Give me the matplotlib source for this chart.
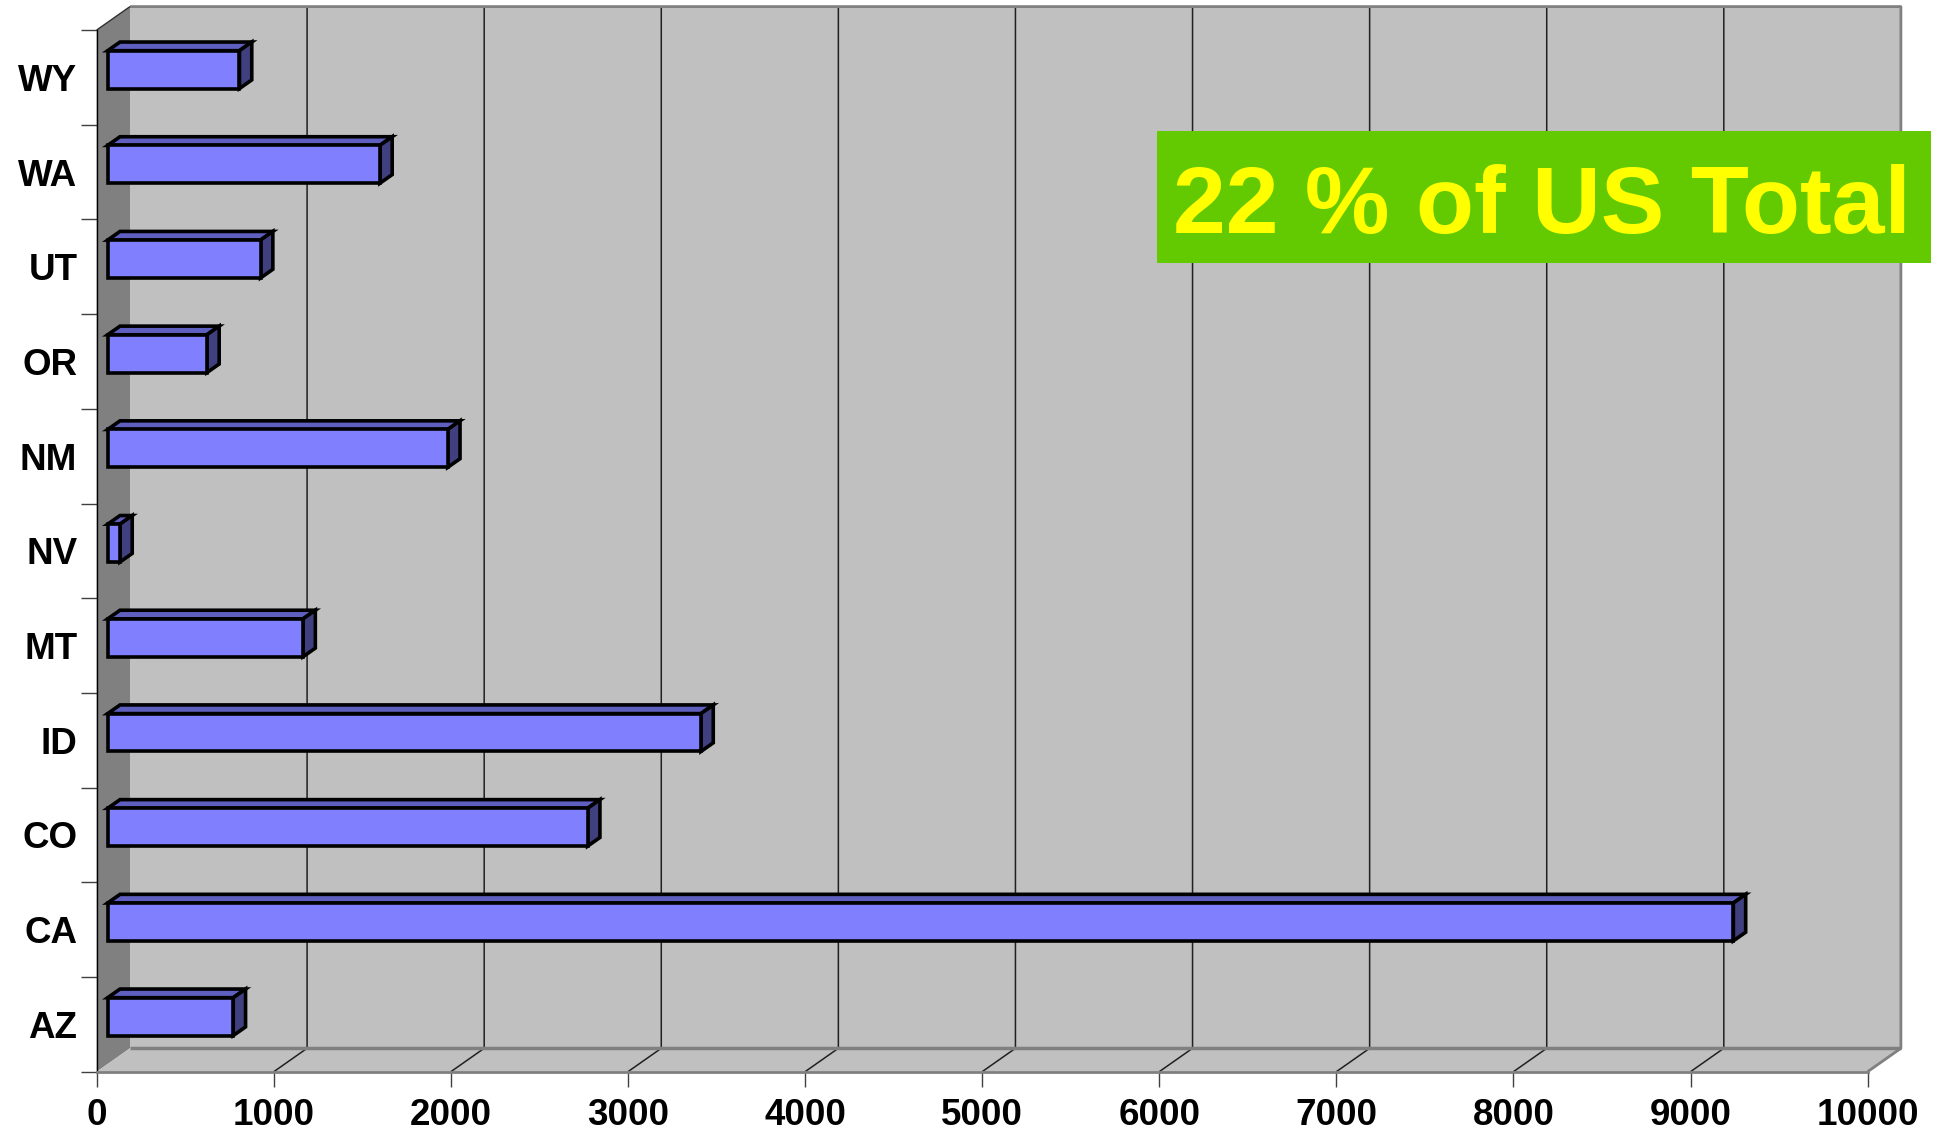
import matplotlib
matplotlib.use('Agg')
import matplotlib.pyplot as plt
from matplotlib.patches import Polygon, Rectangle

# data (bottom to top, as in the chart)
states = ['AZ', 'CA', 'CO', 'ID', 'MT', 'NV', 'NM', 'OR', 'UT', 'WA', 'WY']
values = [709, 9180, 2710, 3350, 1103, 69, 1920, 560, 863, 1537, 744]
x_ticks = list(range(0, 10001, 1000))
note = '22 % of US Total'

plt.rcParams['font.family'] = ['Liberation Sans', 'DejaVu Sans']
plt.rcParams['font.weight'] = 'bold'

W, H = 1946, 1137
fig = plt.figure(figsize=(W / 100, H / 100), dpi=100)

# front plane of the fake 3-D box, in pixels
x0, x1, ytop, ybot = 96.7, 1867.6, 30.0, 1071.7
ax = fig.add_axes([x0 / W, (H - ybot) / H, (x1 - x0) / W, (ybot - ytop) / H])
n = len(states)
xmax = x_ticks[-1]
ax.set_xlim(0, xmax)
ax.set_ylim(0, n)
ax.patch.set_visible(False)

# depth offset of the back wall, converted to data units
DX = 33.3 / ((x1 - x0) / xmax)
DY = 23.4 / ((ybot - ytop) / n)


def proj(v, c, f):
    return (v + f * DX, c + f * DY)


def poly(pts, **kw):
    p = Polygon(pts, closed=True, clip_on=False, **kw)
    ax.add_patch(p)
    return p


def line(pts, **kw):
    xs, ys = zip(*pts)
    ax.plot(xs, ys, clip_on=False, solid_capstyle='butt', **kw)


# walls and floor
poly([proj(0, 0, 1), proj(xmax, 0, 1), proj(xmax, n, 1), proj(0, n, 1)],
     fc='#C0C0C0', ec='none', zorder=0.1)
poly([proj(0, 0, 0), proj(0, 0, 1), proj(0, n, 1), proj(0, n, 0)],
     fc='#808080', ec='none', zorder=0.2)
poly([proj(0, 0, 0), proj(xmax, 0, 0), proj(xmax, 0, 1), proj(0, 0, 1)],
     fc='#C0C0C0', ec='none', zorder=0.2)

# gridlines on floor and back wall
for v in x_ticks[1:-1]:
    line([proj(v, 0, 0), proj(v, 0, 1), proj(v, n, 1)], color='#202020', lw=1.1, zorder=0.5)

# box edges
line([proj(0, 0, 1), proj(xmax, 0, 1)], color='#808080', lw=2.5, zorder=0.6)
line([proj(0, n, 1), proj(xmax, n, 1), proj(xmax, 0, 1), proj(xmax, 0, 0)],
     color='#808080', lw=2.0, zorder=0.6)
line([proj(0, n, 0), proj(0, n, 1)], color='#303030', lw=1.0, zorder=0.6)

# bars: front face with barh, top and side faces as polygons
f1, f2 = 0.33, 0.70
bh = 0.4
lw_bar = 2.6
ax.barh([i + 0.5 + f1 * DY for i in range(n)], values, height=bh, left=f1 * DX,
        color='#8080FF', edgecolor='black', linewidth=lw_bar, zorder=3)
for i, v in enumerate(values):
    lo, hi = i + 0.5 - bh / 2, i + 0.5 + bh / 2
    poly([proj(0, hi, f1), proj(v, hi, f1), proj(v, hi, f2), proj(0, hi, f2)],
         fc='#5F5FBF', ec='black', lw=lw_bar, joinstyle='miter', zorder=2.9)
    poly([proj(v, lo, f1), proj(v, lo, f2), proj(v, hi, f2), proj(v, hi, f1)],
         fc='#404080', ec='black', lw=lw_bar, joinstyle='miter', zorder=2.9)

# axes, ticks and labels
for s in ['top', 'right']:
    ax.spines[s].set_visible(False)
ax.spines['left'].set_color('black')
ax.spines['left'].set_linewidth(1.0)
ax.spines['bottom'].set_color('#808080')
ax.spines['bottom'].set_linewidth(2.0)

ax.set_xticks(x_ticks)
ax.set_xticklabels([str(t) for t in x_ticks], fontsize=26.5, fontweight='bold')
ax.tick_params(axis='x', length=11, width=1, color='#404040', pad=8)

ax.set_yticks(range(n + 1))
ax.set_yticklabels([])
ax.tick_params(axis='y', which='major', length=11.3, width=1, color='#404040')
ax.set_yticks([i + 0.5 for i in range(n)], minor=True)
ax.set_yticklabels(states, minor=True, fontsize=26.5, fontweight='bold')
ax.tick_params(axis='y', which='minor', length=0, pad=14)

# green note box
fig.patches.append(Rectangle((1157 / W, (H - 262.7) / H), 774 / W, 131.7 / H,
                             transform=fig.transFigure, fc='#63C900', ec='none', zorder=5))
fig.text(1541.5 / W, (H - 233.3) / H, note, ha='center', va='baseline',
         fontsize=68.5, fontweight='bold', color='#FFFF00', zorder=6)

fig.savefig('out.png', dpi=100)
